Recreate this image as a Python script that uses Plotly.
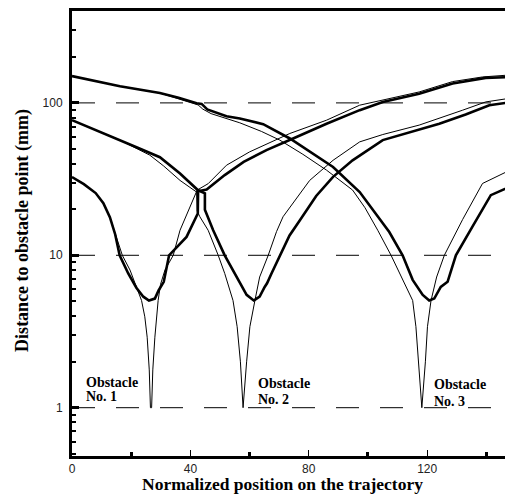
import plotly.graph_objects as go

# ---------------- data ----------------
# Obstacle 1
obs1_thick_x = [0, 4, 8, 10.6, 12.8, 14.6, 16.1, 19.0, 21.8, 24.1, 26.0, 28.0, 29.3, 30.3, 31.0, 32.8, 35.5,
                38.7, 42.5, 42.6, 45.5, 51.6, 58.0, 65.7, 74.7, 86.0, 97.2, 105.0, 117.3, 128.6, 139.8, 149.0]
obs1_thick_y = [32.6, 29.3, 25.6, 22.0, 17.8, 13.7, 10.0, 7.6, 6.1, 5.35, 5.05, 5.2, 5.9, 6.44, 6.7, 10.0, 11.3,
                13.2, 18.8, 26.3, 27.0, 33.6, 41.0, 49.0, 58.4, 73.0, 89.6, 101.5, 115.0, 134.0, 146.0, 148.0]
obs1_thin_x = [0, 4, 8, 10.6, 12.8, 14.6, 17.0, 19.6, 21.8, 23.5, 24.6, 25.4, 26.1, 26.5, 26.9, 27.3, 28.0,
               28.6, 29.1, 29.9, 31.4, 34.2, 36.5, 42.3, 46.0, 52.2, 60.0, 73.6, 86.0, 97.2, 105.0, 117.3,
               128.6, 138.7, 149.0]
obs1_thin_y = [32.6, 29.3, 25.6, 22.0, 17.8, 13.9, 10.0, 8.0, 6.2, 5.05, 3.95, 2.9, 1.77, 1.0, 1.0, 1.77, 2.9,
               3.95, 5.05, 6.44, 8.0, 10.0, 14.6, 26.8, 29.5, 39.0, 47.7, 63.0, 77.0, 96.6, 104.0, 118.0,
               138.0, 148.0, 153.0]

# Obstacle 2
obs2_thick_x = [0, 8, 16.2, 22, 29.7, 36.5, 42.5, 44.9, 44.9, 47.7, 51.6, 55.0, 56.7, 59.0, 61.4, 63.4, 65.1,
                65.9, 67.4, 70.2, 73.5, 77.0, 82.5, 88.2, 94.8, 105.0, 124.1, 133.0, 141.0, 149.0]
obs2_thick_y = [77, 66, 57, 51, 44, 34.4, 26.8, 25.5, 19.9, 14.6, 10.0, 7.6, 6.55, 5.5, 5.05, 5.35, 6.2,
                6.55, 7.6, 10.0, 13.5, 17.0, 24.5, 32.7, 42.0, 57.0, 73.0, 84.0, 96.6, 101.5]
obs2_thin_x = [0, 8, 16.2, 22, 26.3, 31, 36.5, 42.1, 42.3, 43.2, 46.0, 49.4, 51.6, 54.4, 55.8, 56.9, 57.8,
               59.0, 60.1, 61.8, 63.4, 66.3, 69.1, 71.3, 74.7, 80.3, 88.2, 97.2, 105.0, 117.3, 132.0, 139.8,
               149.0]
obs2_thin_y = [77, 66, 57, 50, 45.4, 38.5, 31, 26, 19.5, 17.9, 14.6, 10, 7.6, 5.05, 3.4, 2, 1,
               2, 3.4, 5.05, 7.2, 10, 14.3, 17.9, 21.9, 31, 42, 55.5, 62, 71.5, 89.6, 101.5,
               108]

# Obstacle 3
obs3_thick_x = [0, 16.2, 29.7, 36, 42.1, 43.8, 45.7, 52.2, 56.7, 64.6, 73.6, 80, 88.2, 97.2, 101.6, 107.2,
                111.7, 115.1, 118.5, 120.7, 122.4, 124.6, 126.9, 129.7, 135.3, 141.5, 149]
obs3_thick_y = [150, 128.6, 116, 108, 99.5, 98.5, 90.6, 81.8, 79, 72.5, 58.4, 48.4, 38, 26, 20, 14.2,
                10, 6.9, 5.5, 5.05, 5.2, 6.2, 6.7, 10, 15.4, 24.8, 28.8]
obs3_thin_x = [0, 16.2, 29.7, 36, 40, 42.6, 44.2, 47, 56.7, 64, 70.2, 78, 86, 94.8, 99.0, 103.3, 107.8,
               111.7, 115.1, 116.2, 117.0, 118.2, 119.4, 120.1, 121.3, 123.2, 125.8, 132, 138.7, 149]
obs3_thin_y = [150, 128.6, 116, 106, 100, 97, 91, 85, 74, 65, 57, 46, 36.2, 26.8, 20.5, 14.6, 10,
               6.9, 5.05, 3.4, 2, 1, 2, 3.4, 5.05, 7.2, 10, 17.2, 29.6, 37]

ref_levels = [1, 10, 100]
x_range = [0, 149]
y_range_log = [-0.317, 2.603]
x_major = [0, 40, 80, 120]
x_minor = [20, 60, 100, 140]
y_major = [1, 10, 100]
y_major_text = ["1", "10", "100"]
y_minor = [0.5, 0.6, 0.7, 0.8, 0.9, 2, 3, 4, 5, 6, 7, 8, 9, 20, 30, 40, 50, 60, 70, 80, 90, 200, 300, 400]
obstacle_names = ["No. 1", "No. 2", "No. 3"]

# ---------------- figure ----------------
fig = go.Figure()

for lvl in ref_levels:
    fig.add_trace(go.Scatter(x=x_range, y=[lvl, lvl], mode="lines",
                             line=dict(color="black", width=1, dash="23px,21px"),
                             hoverinfo="skip"))

curves = [
    (obs1_thin_x, obs1_thin_y, 1.0),
    (obs2_thin_x, obs2_thin_y, 1.0),
    (obs3_thin_x, obs3_thin_y, 1.0),
    (obs1_thick_x, obs1_thick_y, 2.6),
    (obs2_thick_x, obs2_thick_y, 2.6),
    (obs3_thick_x, obs3_thick_y, 2.6),
]
for xs, ys, w in curves:
    fig.add_trace(go.Scatter(x=xs, y=ys, mode="lines",
                             line=dict(color="black", width=w)))

serif = "Liberation Serif, Times New Roman, serif"
sans = "Liberation Sans, Arial, sans-serif"

annotations = []
label_pos = [(0.030, 0.166, 0.133), (0.420, 0.164, 0.128), (0.819, 0.160, 0.122)]
for name, (px, py1, py2) in zip(obstacle_names, label_pos):
    for txt, yy in (("Obstacle", py1), (name, py2)):
        annotations.append(dict(text="<b>" + txt + "</b>", x=px, y=yy, xref="paper", yref="paper",
                                xanchor="left", yanchor="middle", showarrow=False,
                                font=dict(family=serif, size=14, color="black"), borderpad=0))

annotations.append(dict(text="<b>Normalized position on the trajectory</b>", x=0.477, y=-0.063,
                        xref="paper", yref="paper", xanchor="center", yanchor="middle",
                        showarrow=False, font=dict(family=serif, size=17.5, color="black")))
annotations.append(dict(text="<b>Distance to obstacle point (mm)</b>", x=-0.111, y=0.506,
                        xref="paper", yref="paper", xanchor="center", yanchor="middle",
                        textangle=-90, showarrow=False,
                        font=dict(family=serif, size=18, color="black")))

# page body has an 8px default margin, so the figure is sized to fill the 513x494 window
fig.update_layout(
    width=505, height=486,
    margin=dict(l=64, r=0, t=3, b=38),
    plot_bgcolor="white", paper_bgcolor="white",
    showlegend=False,
    annotations=annotations,
    xaxis=dict(range=x_range, showgrid=False, zeroline=False,
               showline=True, linewidth=3, linecolor="black", mirror=True,
               ticks="inside", tickvals=x_major, ticklen=6, tickwidth=1, tickcolor="black",
               tickfont=dict(family=sans, size=12, color="#222"),
               minor=dict(tickvals=x_minor, ticks="inside", ticklen=4, tickwidth=2.5,
                          tickcolor="black", showgrid=False)),
    yaxis=dict(type="log", range=y_range_log, showgrid=False, zeroline=False,
               showline=True, linewidth=3, linecolor="black", mirror=False,
               ticks="inside", tickvals=y_major, ticktext=y_major_text,
               ticklen=7, tickwidth=2.5, tickcolor="black", ticklabelstandoff=4,
               tickfont=dict(family=sans, size=12, color="#222"),
               minor=dict(tickvals=y_minor, ticks="inside", ticklen=4, tickwidth=2,
                          tickcolor="black", showgrid=False)),
)

fig.write_html("out.html")
